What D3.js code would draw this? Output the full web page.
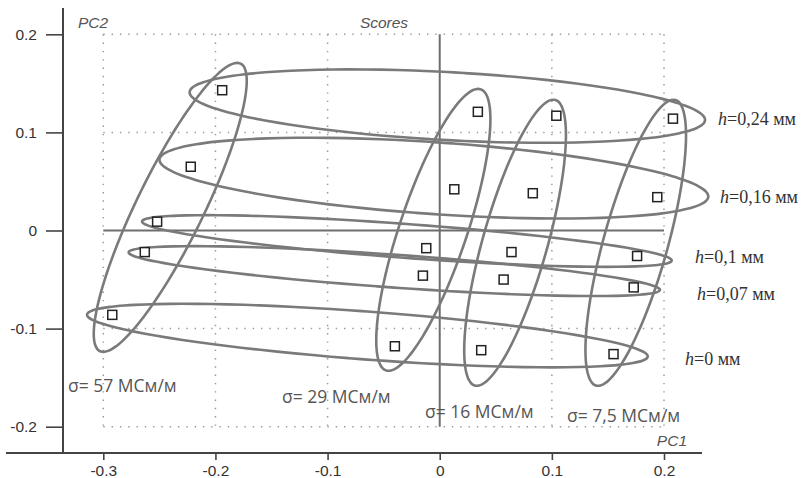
<!DOCTYPE html>
<html>
<head>
<meta charset="utf-8">
<script src="https://cdn.jsdelivr.net/npm/d3@7"></script>
<style>
  body { margin: 0; background: #fff; }
  svg { display: block; }
</style>
</head>
<body>
<svg id="chart" width="804" height="478"></svg>
<script>
// scores, one series per conductivity, ordered h = 0.24, 0.16, 0.1, 0.07, 0 mm
const hLevels = ["0,24", "0,16", "0,1", "0,07", "0"];
const sigmaLevels = ["57", "29", "16", "7,5"];

const pc1Sigma57 = [-0.194, -0.222, -0.252, -0.263, -0.292];
const pc2Sigma57 = [0.143, 0.065, 0.009, -0.022, -0.086];
const pc1Sigma29 = [0.034, 0.013, -0.012, -0.015, -0.040];
const pc2Sigma29 = [0.121, 0.042, -0.018, -0.046, -0.118];
const pc1Sigma16 = [0.104, 0.083, 0.064, 0.057, 0.037];
const pc2Sigma16 = [0.117, 0.038, -0.022, -0.050, -0.122];
const pc1Sigma75 = [0.208, 0.194, 0.176, 0.173, 0.155];
const pc2Sigma75 = [0.114, 0.034, -0.026, -0.058, -0.126];

// group ellipses in score units: centre, half axis u, half chord v
const hCenter1 = [0.0068, -0.0052, -0.0293, -0.0405, -0.0645];
const hCenter2 = [0.1268, 0.0534, -0.0107, -0.0414, -0.1071];
const hAxis1 = [0.2298, 0.2447, 0.2362, 0.2369, 0.2500];
const hAxis2 = [-0.0140, -0.0187, -0.0199, -0.0191, -0.0212];
const hChord2 = [0.0347, 0.0367, 0.0173, 0.0168, 0.0245];

const sCenter1 = [-0.2403, -0.0057, 0.0672, 0.1748];
const sCenter2 = [0.0236, 0.0007, -0.0125, -0.0125];
const sAxis1 = [0.0597, 0.0399, 0.0341, 0.0336];
const sAxis2 = [0.1473, 0.1437, 0.1458, 0.1458];
const sChord1 = [0.0330, 0.0316, 0.0299, 0.0297];

const majorX = [-0.3, -0.2, -0.1, 0, 0.1, 0.2];
const majorY = [0.2, 0.1, 0, -0.1, -0.2];

const svg = d3.select("#chart");
const x = d3.scaleLinear().domain([-0.3, 0.2]).range([103.3, 664]);
const y = d3.scaleLinear().domain([0.2, -0.2]).range([34.3, 426.7]);
const axisX0 = 63, axisY0 = 453;
const ink = "#444";
const sans = "'Liberation Sans', Arial, sans-serif";

// dotted grid
const grid = svg.append("g").attr("stroke", "#9a9a9a").attr("stroke-width", 1.5)
  .attr("stroke-dasharray", "1.4,6.9");
majorX.filter(d => d !== 0).forEach(d => {
  grid.append("line").attr("x1", x(d)).attr("x2", x(d)).attr("y1", y(0.2)).attr("y2", y(-0.2));
});
majorY.filter(d => d !== 0).forEach(d => {
  grid.append("line").attr("x1", x(-0.3)).attr("x2", x(0.2)).attr("y1", y(d)).attr("y2", y(d));
});
// solid centre lines
svg.append("line").attr("x1", x(0)).attr("x2", x(0)).attr("y1", y(0.2)).attr("y2", y(-0.2))
  .attr("stroke", "#6e6e6e").attr("stroke-width", 2);
svg.append("line").attr("x1", x(-0.3)).attr("x2", x(0.2)).attr("y1", y(0)).attr("y2", y(0))
  .attr("stroke", "#6e6e6e").attr("stroke-width", 2);

// axes
const minorX = d3.range(-30, 23).map(i => i / 100);
const minorY = d3.range(-20, 21).map(i => i / 100);
const fmt = d => String(d);

const gx = svg.append("g").attr("transform", `translate(0,${axisY0})`);
gx.call(d3.axisBottom(x).tickValues(minorX).tickSize(4).tickFormat(""));
gx.call(d3.axisBottom(x).tickValues(majorX).tickSize(7).tickPadding(5).tickFormat(fmt));
const gy = svg.append("g").attr("transform", `translate(${axisX0},0)`);
gy.call(d3.axisLeft(y).tickValues(minorY).tickSize(6).tickFormat(""));
gy.call(d3.axisLeft(y).tickValues(majorY).tickSize(17).tickPadding(9).tickFormat(fmt));
svg.selectAll(".domain").remove();
svg.selectAll(".tick line").attr("stroke", ink).attr("stroke-width", 1.6);
svg.selectAll(".tick text").attr("fill", "#333").style("font-family", sans).style("font-size", "15.5px");
svg.append("line").attr("x1", 6).attr("x2", 702).attr("y1", axisY0).attr("y2", axisY0)
  .attr("stroke", ink).attr("stroke-width", 2);
svg.append("line").attr("x1", axisX0).attr("x2", axisX0).attr("y1", 8).attr("y2", axisY0)
  .attr("stroke", ink).attr("stroke-width", 2);

// titles
const titles = [["PC2", 78, 28, "start"], ["Scores", 384, 28, "middle"], ["PC1", 687, 446, "end"]];
titles.forEach(([t, tx, ty, anchor]) => {
  svg.append("text").attr("x", tx).attr("y", ty).attr("text-anchor", anchor)
    .attr("fill", "#555").style("font-family", sans).style("font-style", "italic")
    .style("font-size", "15.5px").text(t);
});

// ellipses
const ellipse = (c1, c2, u1, u2, v1, v2) => d3.range(96).map(i => {
  const t = i / 96 * 2 * Math.PI;
  return [x(c1 + u1 * Math.cos(t) + v1 * Math.sin(t)), y(c2 + u2 * Math.cos(t) + v2 * Math.sin(t))];
});
const line = d3.line().curve(d3.curveCardinalClosed);
const eg = svg.append("g").attr("fill", "none").attr("stroke", "#7a7a7a").attr("stroke-width", 2.6);
hLevels.forEach((h, i) => {
  eg.append("path").attr("d", line(ellipse(hCenter1[i], hCenter2[i], hAxis1[i], hAxis2[i], 0, hChord2[i])));
});
sigmaLevels.forEach((s, i) => {
  eg.append("path").attr("d", line(ellipse(sCenter1[i], sCenter2[i], sAxis1[i], sAxis2[i], sChord1[i], 0)));
});

// score markers
const series = [[pc1Sigma57, pc2Sigma57], [pc1Sigma29, pc2Sigma29], [pc1Sigma16, pc2Sigma16], [pc1Sigma75, pc2Sigma75]];
const pts = series.flatMap(([a, b]) => a.map((v, i) => ({ pc1: v, pc2: b[i] })));
svg.append("g").selectAll("rect").data(pts).enter().append("rect")
  .attr("x", d => x(d.pc1) - 4.5).attr("y", d => y(d.pc2) - 4.5)
  .attr("width", 9).attr("height", 9)
  .attr("fill", "#fff").attr("stroke", "#222").attr("stroke-width", 1.5);

// group labels
const hPos = [[718, 125], [720, 203], [695, 263], [697, 300], [685, 365]];
hLevels.forEach((h, i) => {
  const t = svg.append("text").attr("x", hPos[i][0]).attr("y", hPos[i][1])
    .attr("fill", "#333").style("font-family", "'Liberation Serif', 'Times New Roman', serif")
    .style("font-size", "18px");
  t.append("tspan").style("font-style", "italic").text("h");
  t.append("tspan").text(`=${h} мм`);
});
const sPos = [[68, 392], [282, 403], [425, 418], [567, 422]];
sigmaLevels.forEach((s, i) => {
  svg.append("text").attr("x", sPos[i][0]).attr("y", sPos[i][1])
    .attr("fill", "#555").style("font-family", "'Open Sans', 'Noto Sans', sans-serif")
    .style("font-size", "17.5px").text(`σ= ${s} МСм/м`);
});
</script>
</body>
</html>
